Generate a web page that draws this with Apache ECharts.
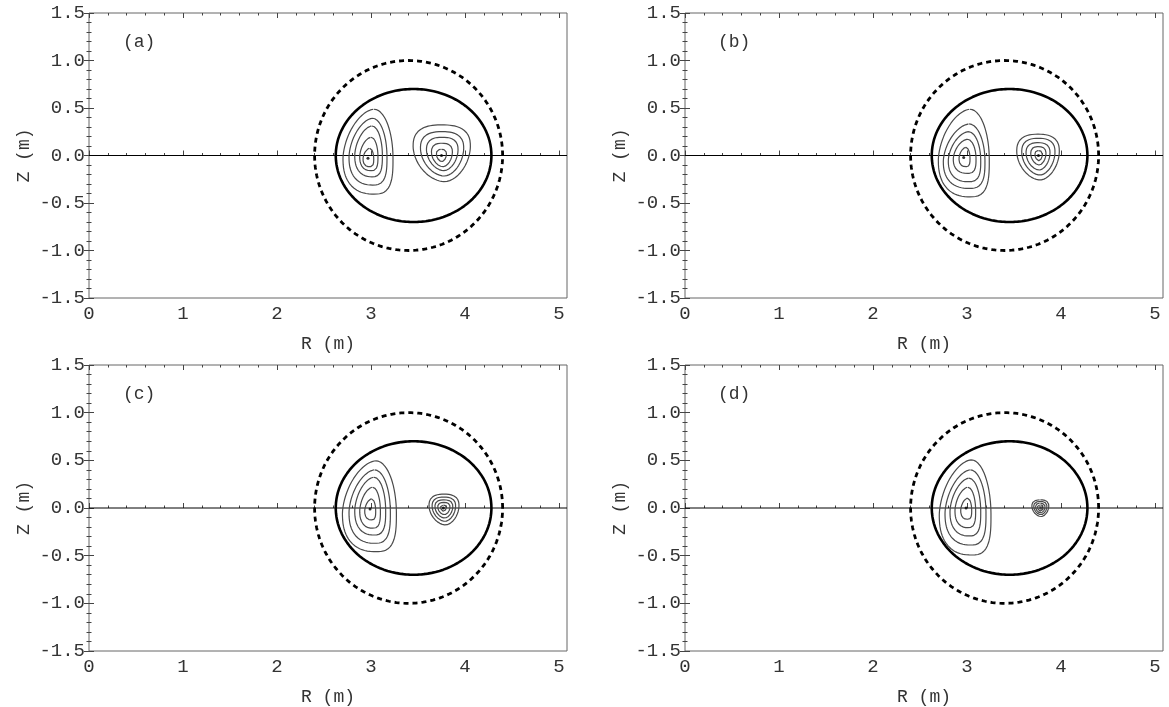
<!DOCTYPE html>
<html>
<head>
<meta charset="utf-8">
<script src="https://cdn.jsdelivr.net/npm/echarts@6/dist/echarts.min.js"></script>
<style>
  html, body { margin: 0; background: #fff; }
  #main { width: 1169px; height: 707px; }
</style>
</head>
<body>
<div id="main"></div>
<script>
var chart = echarts.init(document.querySelector('#main'), null);

// tick labels
var xTicks = [0, 1, 2, 3, 4, 5];
var yTicks = [-1.5, -1.0, -0.5, 0.0, 0.5, 1.0, 1.5];
var xMax = 5.085;
var panelNames = ['(a)', '(b)', '(c)', '(d)'];

// wall (solid) and limiter (dashed): [centre R, centre Z, half width, half height]
var wall = [3.453, 0, 0.828, 0.70];
var limiter = [3.40, 0, 1.0, 1.0];

// O-points of the two islands, per panel
var oLeft = [[2.968, -0.03], [2.965, -0.02], [2.99, -0.01], [2.99, 0.0]];
var oRight = [[3.75, 0.0], [3.76, 0.0], [3.77, 0.0], [3.79, 0.0]];

// flux contours, outermost first: [Rmin, Rmax, Zmin, Zmax]
var leftA = [[2.702, 3.234, -0.406, 0.487], [2.766, 3.170, -0.311, 0.392], [2.827, 3.121, -0.224, 0.311], [2.880, 3.074, -0.160, 0.192], [2.915, 3.029, -0.118, 0.076]];
var rightA = [[3.448, 4.057, -0.276, 0.322], [3.526, 3.986, -0.216, 0.251], [3.590, 3.926, -0.160, 0.192], [3.643, 3.866, -0.118, 0.129], [3.696, 3.802, -0.065, 0.065]];
var leftB = [[2.695, 3.237, -0.435, 0.487], [2.748, 3.191, -0.346, 0.332], [2.801, 3.146, -0.276, 0.251], [2.854, 3.096, -0.188, 0.171], [2.915, 3.032, -0.118, 0.086]];
var rightB = [[3.529, 3.982, -0.258, 0.224], [3.582, 3.936, -0.206, 0.181], [3.628, 3.883, -0.153, 0.135], [3.678, 3.840, -0.100, 0.093], [3.723, 3.801, -0.055, 0.051]];
var leftC = [[2.696, 3.270, -0.458, 0.495], [2.766, 3.206, -0.370, 0.400], [2.827, 3.156, -0.283, 0.323], [2.880, 3.100, -0.212, 0.218], [2.933, 3.050, -0.125, 0.096]];
var rightC = [[3.617, 3.936, -0.178, 0.145], [3.650, 3.900, -0.140, 0.115], [3.680, 3.870, -0.105, 0.085], [3.710, 3.840, -0.070, 0.058], [3.740, 3.800, -0.035, 0.030]];
var leftD = [[2.705, 3.255, -0.493, 0.505], [2.766, 3.202, -0.388, 0.400], [2.819, 3.146, -0.293, 0.313], [2.872, 3.092, -0.206, 0.218], [2.933, 3.050, -0.118, 0.103]];
var rightD = [[3.690, 3.870, -0.090, 0.085], [3.710, 3.850, -0.070, 0.068], [3.730, 3.830, -0.052, 0.050], [3.750, 3.810, -0.034, 0.033], [3.770, 3.800, -0.017, 0.016]];

var leftSets = [leftA, leftB, leftC, leftD];
var rightSets = [rightA, rightB, rightC, rightD];

// island outline shape: top / bottom extreme position, side height, quadrant squareness (TR, BR, BL, TL)
var leftShape = { tf: 0.62, bf: 0.62, sf: 0.42, n: [2.0, 3.0, 2.4, 1.7] };
var rightShape = { tf: 0.5, bf: 0.55, sf: 0.62, n: [2.6, 1.8, 1.8, 2.6] };

var grids = [
  { left: 89, top: 13, width: 478, height: 285 },
  { left: 685, top: 13, width: 478, height: 285 },
  { left: 89, top: 365, width: 478, height: 286 },
  { left: 685, top: 365, width: 478, height: 286 }
];
var letterPos = [[123, 33], [718, 33], [123, 385], [718, 385]];

var font = 'Liberation Mono';
var xMinor = [];
for (var v = 0.2; v < 5.05; v += 0.2) xMinor.push(Math.round(v * 10) / 10);

function ellipse(e) {
  var pts = [];
  for (var k = 0; k <= 240; k++) {
    var t = k / 240 * Math.PI * 2;
    pts.push([e[0] + e[2] * Math.cos(t), e[1] + e[3] * Math.sin(t)]);
  }
  return pts;
}

function island(c, s) {
  var L = c[0], Rt = c[1], B = c[2], T = c[3];
  var xT = L + s.tf * (Rt - L), xB = L + s.bf * (Rt - L), zS = B + s.sf * (T - B);
  var pts = [], N = 40;
  function pw(a, n) { return Math.pow(Math.max(a, 0), 2 / n); }
  for (var q = 0; q < 4; q++) {
    var n = s.n[q];
    for (var k = 0; k < N; k++) {
      var t = k / N * Math.PI / 2, sn = Math.sin(t), cs = Math.cos(t);
      if (q === 0) pts.push([xT + (Rt - xT) * pw(sn, n), zS + (T - zS) * pw(cs, n)]);
      else if (q === 1) pts.push([xB + (Rt - xB) * pw(cs, n), zS - (zS - B) * pw(sn, n)]);
      else if (q === 2) pts.push([xB - (xB - L) * pw(sn, n), zS - (zS - B) * pw(cs, n)]);
      else pts.push([xT - (xT - L) * pw(cs, n), zS + (T - zS) * pw(sn, n)]);
    }
  }
  pts.push(pts[0]);
  return pts;
}

var option = {
  animation: false,
  textStyle: { fontFamily: font },
  title: [],
  grid: [],
  xAxis: [],
  yAxis: [],
  series: []
};

function xAx(i, pos, ticks, len, labels) {
  return {
    gridIndex: i, type: 'value', min: 0, max: xMax, position: pos,
    axisLine: { show: false },
    splitLine: { show: false },
    axisTick: { show: true, inside: true, length: len, customValues: ticks, lineStyle: { color: '#444' } },
    axisLabel: labels ? { customValues: xTicks, margin: 6, fontSize: 19, color: '#333', fontFamily: font } : { show: false },
    name: labels ? 'R (m)' : '',
    nameLocation: 'middle',
    nameGap: 37,
    nameTextStyle: { fontSize: 18, color: '#333', fontFamily: font }
  };
}

function yAx(i, pos, labels) {
  return {
    gridIndex: i, type: 'value', min: -1.5, max: 1.5, interval: 0.5, position: pos,
    axisLine: { show: false },
    splitLine: { show: false },
    axisTick: { show: true, inside: true, length: 5, lineStyle: { color: '#444' } },
    minorTick: { show: true, splitNumber: 5, length: 2.5, lineStyle: { color: '#444' } },
    axisLabel: labels ? {
      margin: 4, fontSize: 19, color: '#333', fontFamily: font,
      formatter: function (v) { return v.toFixed(1); }
    } : { show: false },
    name: labels ? 'Z (m)' : '',
    nameLocation: 'middle',
    nameGap: 56,
    nameTextStyle: { fontSize: 18, color: '#333', fontFamily: font }
  };
}

grids.forEach(function (g, i) {
  option.grid.push({ left: g.left, top: g.top, width: g.width, height: g.height, show: true, borderColor: '#666', borderWidth: 1 });
  option.title.push({ text: panelNames[i], left: letterPos[i][0], top: letterPos[i][1], padding: 0,
    textStyle: { fontSize: 18, fontWeight: 'normal', color: '#333', fontFamily: font } });
  option.xAxis.push(xAx(i, 'bottom', xTicks, 5, true));
  option.xAxis.push(xAx(i, 'bottom', xMinor, 2.5, false));
  option.xAxis.push(xAx(i, 'top', xTicks, 5, false));
  option.xAxis.push(xAx(i, 'top', xMinor, 2.5, false));
  option.yAxis.push(yAx(i, 'left', true));
  option.yAxis.push(yAx(i, 'right', false));

  var xi = i * 4, yi = i * 2;
  function line(data, color, width, type) {
    option.series.push({
      type: 'line', xAxisIndex: xi, yAxisIndex: yi, data: data,
      showSymbol: false, symbol: 'none', silent: true,
      lineStyle: { color: color, width: width, type: type || 'solid' }
    });
  }
  line([[0, 0], [xMax, 0]], '#000', 1);
  line(ellipse(wall), '#000', 2.6);
  line(ellipse(limiter), '#000', 2.8, [5, 4]);
  leftSets[i].forEach(function (c) { line(island(c, leftShape), '#4a4a4a', 1.2); });
  rightSets[i].forEach(function (c) { line(island(c, rightShape), '#4a4a4a', 1.2); });
  option.series.push({
    type: 'scatter', xAxisIndex: xi, yAxisIndex: yi, symbolSize: 3, silent: true,
    itemStyle: { color: '#000' }, data: [oLeft[i], oRight[i]]
  });
});

chart.setOption(option);

window.addEventListener('resize', function () {
  chart.resize();
});
</script>
</body>
</html>
